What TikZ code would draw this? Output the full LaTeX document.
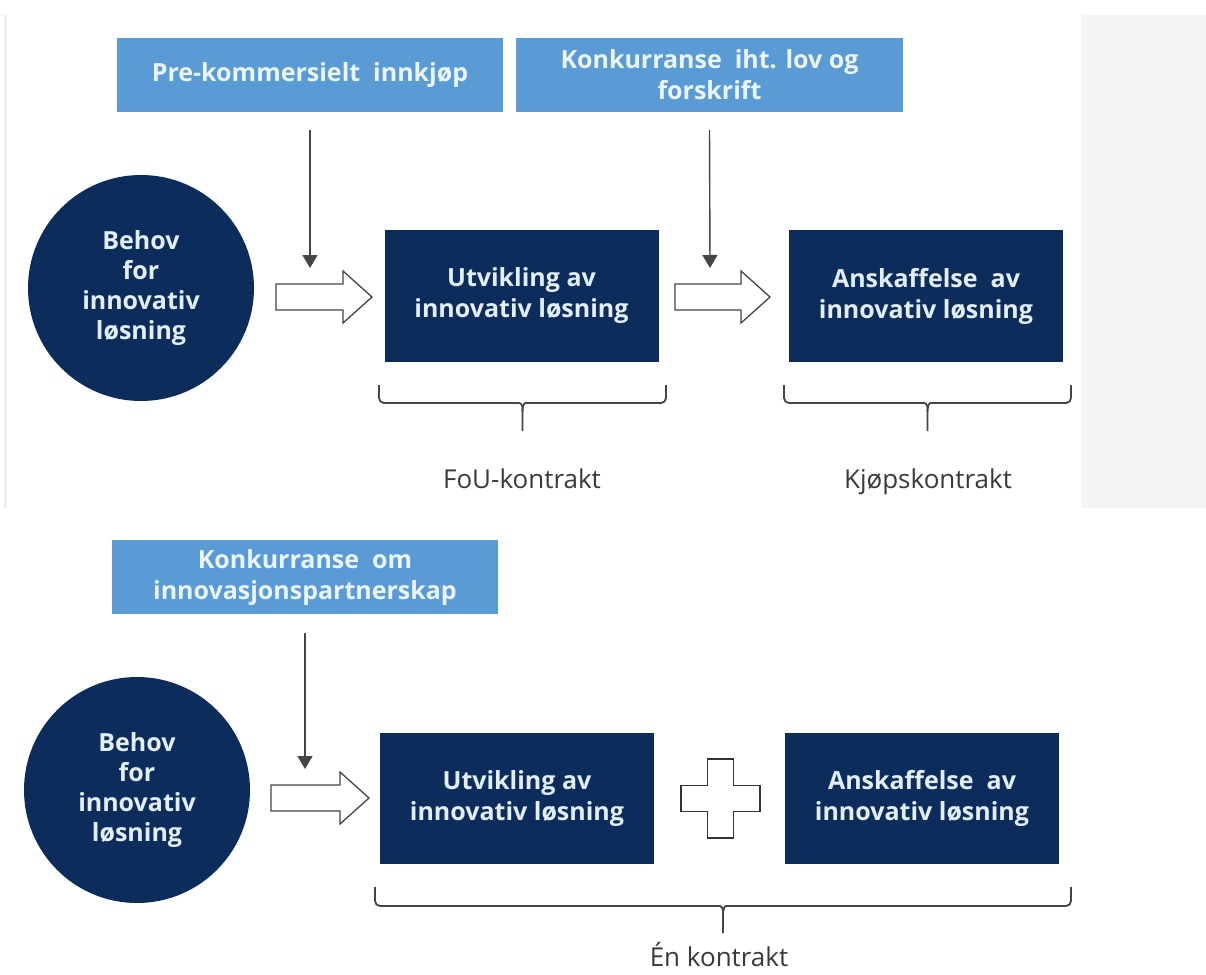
\documentclass[tikz,border=0pt]{standalone}
\usepackage{fontspec}
\setmainfont{Open Sans}
\IfFontExistsTF{Open Sans SemiBold}{\newfontfamily\semib{Open Sans SemiBold}}{\def\semib{\bfseries}}
\usetikzlibrary{arrows.meta}
\definecolor{lblue}{HTML}{5B9BD5}
\definecolor{lbtext}{HTML}{EAF5FC}
\definecolor{navy}{HTML}{0C2D5C}
\definecolor{nvtext}{HTML}{E2EEF8}
\definecolor{lineg}{HTML}{454545}
\definecolor{labelg}{HTML}{3A3A3A}
\definecolor{panel}{HTML}{F4F4F4}
\definecolor{edgeg}{HTML}{ECECEC}
\newcommand\harrow[4]{%
  \draw[hollow] (#1,{#4-13}) -- (#3,{#4-13}) -- (#3,{#4-26}) -- (#2,#4) -- (#3,{#4+26}) -- (#3,{#4+13}) -- (#1,{#4+13}) -- cycle;}
\newcommand\mybrace[5]{% x1 x2 ytop yline ystem
  \pgfmathsetmacro\bxc{(#1+#2)/2}
  \draw[brace] (#1,#3) -- (#1,#4) -- ({\bxc-8},#4) .. controls ({\bxc-2},#4) and (\bxc,{#4+2}) .. (\bxc,{#4+9}) -- (\bxc,#5);
  \draw[brace] (#2,#3) -- (#2,#4) -- ({\bxc+8},#4) .. controls ({\bxc+2},#4) and (\bxc,{#4+2}) .. (\bxc,{#4+9});}
\begin{document}
\begin{tikzpicture}[x=1pt,y=-1pt,
  lbox/.style={fill=lblue, text=lbtext, minimum width=386pt, minimum height=74pt, inner sep=0pt, align=center, font=\semib\fontsize{25}{31}\selectfont},
  nbox/.style={fill=navy, text=nvtext, minimum width=274pt, minimum height=132pt, inner sep=0pt, align=center, font=\semib\fontsize{25}{31}\selectfont},
  circ/.style={circle, fill=navy, text=nvtext, minimum size=226pt, inner sep=0pt, align=center, font=\semib\fontsize{25}{30}\selectfont},
  lbl/.style={text=labelg, anchor=base, inner sep=0pt, font=\fontsize{26}{30}\selectfont},
  down/.style={draw=lineg, line width=1.4pt, -{Triangle[length=13pt,width=15pt]}},
  hollow/.style={draw=lineg, line width=1.3pt, fill=white, line join=miter},
  brace/.style={draw=lineg, line width=1.8pt, rounded corners=5pt},
  plus/.style={draw=black!80, line width=1.6pt, fill=white}]
\useasboundingbox (0,0) rectangle (1206,974);
\fill[white] (0,0) rectangle (1206,974);
\fill[panel] (1081,15) rectangle (1206,508);
\fill[edgeg] (4,15) rectangle (7,508);
% ---------- top diagram ----------
\node[lbox] (pk) at (310,75) {Pre-kommersielt~ innkjøp};
\node[lbox, minimum width=387pt] (kl) at (709.5,75) {Konkurranse~ iht. lov og\\forskrift};
\node[circ] (c1) at (141,288) {Behov\\for\\innovativ\\løsning};
\node[nbox] (u1) at (521.5,296) {Utvikling av\\innovativ løsning};
\node[nbox] (a1) at (926,296) {Anskaffelse~ av\\innovativ løsning};
\coordinate (t1) at (310,268);
\coordinate (t2) at (710,268);
\draw[down] ([yshift=-18pt]pk.south) -- (t1);
\draw[down] ([yshift=-18pt]kl.south) -- (t2);
\harrow{276}{372}{343}{297}
\harrow{675}{770}{741}{297}
\mybrace{379}{666}{385}{403}{431}
\mybrace{784}{1071}{385}{403}{431}
\node[lbl] (fou) at (522,488) {FoU-kontrakt};
\node[lbl] (kjop) at (928,488) {Kjøpskontrakt};
% ---------- bottom diagram ----------
\node[lbox] (kp) at (305,577) {Konkurranse~ om\\innovasjonspartnerskap};
\node[circ] (c2) at (137,790) {Behov\\for\\innovativ\\løsning};
\node[nbox, minimum height=131pt] (u2) at (517,798.5) {Utvikling av\\innovativ løsning};
\node[nbox, minimum height=131pt] (a2) at (922,798.5) {Anskaffelse~ av\\innovativ løsning};
\coordinate (t3) at (305,769);
\draw[down] ([yshift=-19pt]kp.south) -- (t3);
\harrow{271}{369}{340}{798}
\draw[plus] (707.5,759) -- (733.5,759) -- (733.5,785.5) -- (760,785.5) -- (760,811.5) -- (733.5,811.5) -- (733.5,838) -- (707.5,838) -- (707.5,811.5) -- (681,811.5) -- (681,785.5) -- (707.5,785.5) -- cycle;
\mybrace{375}{1071}{887}{906}{933}
\node[lbl] (en) at (719,966) {Én kontrakt};
\end{tikzpicture}
\end{document}
